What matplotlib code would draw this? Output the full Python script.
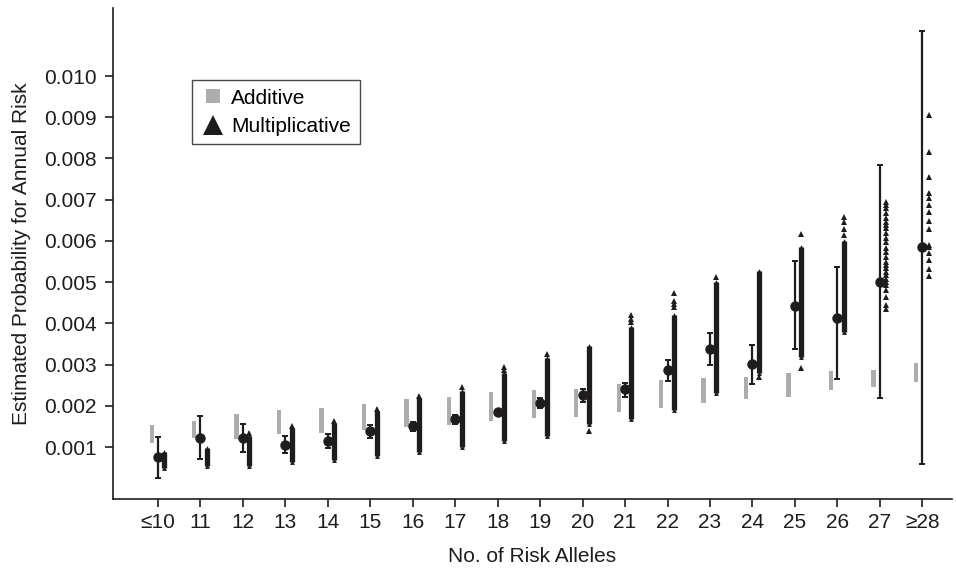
import numpy as np
import matplotlib
matplotlib.use("Agg")
import matplotlib.pyplot as plt
from matplotlib.lines import Line2D

plt.rcParams["font.family"] = ["Liberation Sans", "DejaVu Sans"]

DARK = "#1f1c1d"
GREY = "#adadad"

categories = ["≤10", "11", "12", "13", "14", "15", "16", "17", "18", "19",
              "20", "21", "22", "23", "24", "25", "26", "27", "≥28"]

# additive model: range of predicted risk (grey bars)
add_lo = [0.00110, 0.00123, 0.00120, 0.00131, 0.00133, 0.00141, 0.00148, 0.00154, 0.00164, 0.00171,
          0.00173, 0.00186, 0.00195, 0.00207, 0.00216, 0.00222, 0.00238, 0.00246, 0.00258]
add_hi = [0.00153, 0.00164, 0.00180, 0.00190, 0.00195, 0.00204, 0.00216, 0.00221, 0.00233, 0.00238,
          0.00242, 0.00254, 0.00262, 0.00267, 0.00271, 0.00280, 0.00285, 0.00287, 0.00304]

# observed estimate with interval
obs = [0.00075, 0.00123, 0.00123, 0.00106, 0.00115, 0.00139, 0.00152, 0.00167, 0.00186, 0.00206,
       0.00226, 0.00240, 0.00287, 0.00339, 0.00301, 0.00443, 0.00412, 0.00501, 0.00586]
obs_lo = [0.00025, 0.00070, 0.00089, 0.00085, 0.00098, 0.00123, 0.00139, 0.00156, 0.00184, 0.00194,
          0.00210, 0.00222, 0.00261, 0.00299, 0.00253, 0.00338, 0.00264, 0.00220, 0.00060]
obs_hi = [0.00125, 0.00176, 0.00157, 0.00127, 0.00131, 0.00153, 0.00161, 0.00178, 0.00188, 0.00218,
          0.00240, 0.00256, 0.00311, 0.00377, 0.00347, 0.00552, 0.00537, 0.00784, 0.01110]

# multiplicative model: dense stack of triangles + isolated ones
mult_lo = [0.00049, 0.00055, 0.00054, 0.00064, 0.00068, 0.00078, 0.00087, 0.00099, 0.00115, 0.00127,
           0.00157, 0.00167, 0.00190, 0.00232, 0.00279, 0.00319, 0.00378, np.nan, np.nan]
mult_hi = [0.00088, 0.00098, 0.00128, 0.00146, 0.00158, 0.00187, 0.00220, 0.00235, 0.00280, 0.00315,
           0.00345, 0.00392, 0.00420, 0.00500, 0.00528, 0.00586, 0.00600, np.nan, np.nan]
mult_extra = [
    [], [], [0.00133], [0.00152], [0.00163], [0.00192], [0.00224], [0.00246],
    [0.00288, 0.00295], [0.00325], [0.00140], [0.00404, 0.00410, 0.00420],
    [0.00440, 0.00447, 0.00455, 0.00473], [0.00512], [0.00271], [0.00292, 0.00618],
    [0.00614, 0.00630, 0.00645, 0.00659],
    [0.00695, 0.00687, 0.00680, 0.00668, 0.00655, 0.00646, 0.00639, 0.00631, 0.00619,
     0.00607, 0.00597, 0.00583, 0.00573, 0.00561, 0.00549, 0.00541, 0.00534, 0.00524,
     0.00517, 0.00508, 0.00500, 0.00493, 0.00481, 0.00464, 0.00444, 0.00436],
    [0.00905, 0.00815, 0.00756, 0.00717, 0.00705, 0.00687, 0.00671, 0.00649, 0.00628,
     0.00590, 0.00586, 0.00570, 0.00554, 0.00531, 0.00515],
]

x = np.arange(len(categories))
off = 0.15

fig = plt.figure(figsize=(9.56, 5.72), dpi=100)
ax = fig.add_axes([0.1182, 0.1276, 0.8776, 0.8584])

# additive bars
ax.bar(x - off, np.array(add_hi) - np.array(add_lo), bottom=add_lo, width=0.1,
       color=GREY, linewidth=0, zorder=2)

# observed points with intervals
obs_a = np.array(obs)
ax.errorbar(x, obs_a, yerr=[obs_a - np.array(obs_lo), np.array(obs_hi) - obs_a],
            fmt="o", color=DARK, ms=6.5, elinewidth=1.6, capsize=2.5, capthick=1.4, zorder=4)

# multiplicative triangles
xm = x + off
ax.vlines(xm, mult_lo, mult_hi, color=DARK, linewidth=3.8, zorder=3)
ax.plot(xm, mult_hi, "^", color=DARK, ms=3.5, mew=0, zorder=3)
ax.plot(xm, mult_lo, "^", color=DARK, ms=3.5, mew=0, zorder=3)
for xi, vals in zip(xm, mult_extra):
    if vals:
        ax.plot([xi] * len(vals), vals, "^", color=DARK, ms=3.8, mew=0, zorder=3)

ax.set_xlim(-1.06, 18.7)
ax.set_ylim(-0.00026, 0.01165)
ax.set_xticks(x)
ax.set_xticklabels(categories)
ax.set_yticks(np.arange(1, 11) * 0.001)
ax.set_yticklabels([f"{v:.3f}" for v in np.arange(1, 11) * 0.001])
ax.tick_params(labelsize=15, length=6, width=1.2, color=DARK, labelcolor=DARK, pad=4)
ax.tick_params(axis="y", pad=6)

for s in ["top", "right"]:
    ax.spines[s].set_visible(False)
for s in ["left", "bottom"]:
    ax.spines[s].set_linewidth(1.2)
    ax.spines[s].set_color(DARK)

ax.set_xlabel("No. of Risk Alleles", fontsize=15, color=DARK, labelpad=11)
ax.set_ylabel("Estimated Probability for Annual Risk", fontsize=15, color=DARK, labelpad=9)

handles = [
    Line2D([], [], marker="s", ls="none", color=GREY, ms=10, mew=0),
    Line2D([], [], marker="^", ls="none", color=DARK, ms=14, mew=0),
]
leg = ax.legend(handles, ["Additive", "Multiplicative"], loc="upper left",
                bbox_to_anchor=(0.094, 0.853), borderaxespad=0, fontsize=15,
                frameon=True, fancybox=False, handletextpad=0.3, handlelength=1.2,
                borderpad=0.4, labelspacing=0.45)
leg.get_frame().set_edgecolor(DARK)
leg.get_frame().set_linewidth(1.0)

fig.savefig("out.png", dpi=100)
